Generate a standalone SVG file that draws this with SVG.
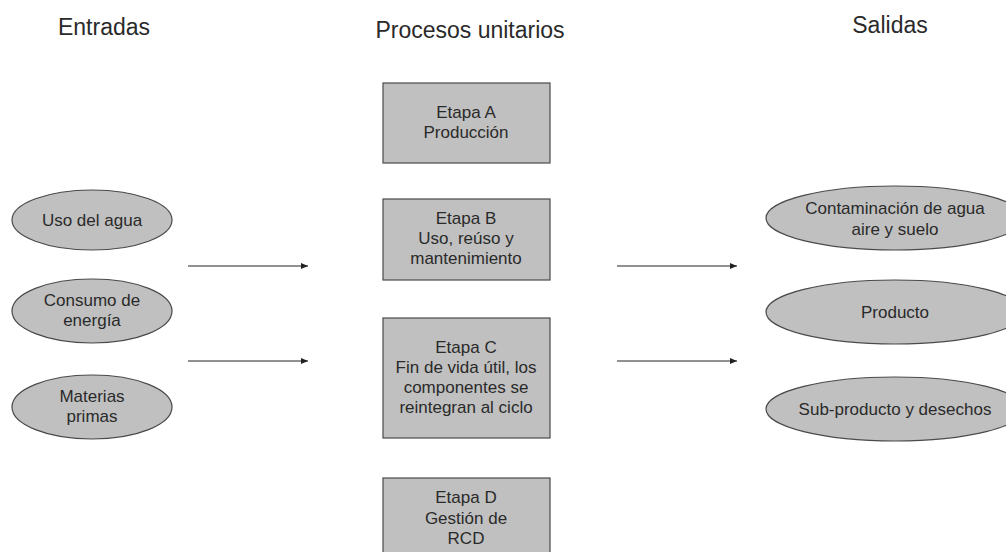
<svg xmlns="http://www.w3.org/2000/svg" width="1006" height="552" viewBox="0 0 1006 552">
<defs>
<style>
text{font-family:"Liberation Sans",Arial,sans-serif;fill:#2a2a2a;text-anchor:middle}
.h{font-size:23px}
.t{font-size:17px}
.n{fill:#c0c0c0;stroke:#4a4a4a;stroke-width:1.2}
.c{stroke:#222;stroke-width:1;fill:none;marker-end:url(#ah)}
</style>
<marker id="ah" markerWidth="8" markerHeight="6" refX="7" refY="3" orient="auto" markerUnits="userSpaceOnUse">
<path d="M0,0 L7,3 L0,6 Z" fill="#222"/>
</marker>
</defs>
<rect width="1006" height="552" fill="#fff"/>
<g id="headers">
<text class="h" x="104" y="35">Entradas</text>
<text class="h" x="470" y="38">Procesos unitarios</text>
<text class="h" x="890" y="33">Salidas</text>
</g>
<g id="in-agua"><ellipse class="n" cx="92" cy="220" rx="80" ry="30"/><text class="t" x="92" y="226">Uso del agua</text></g>
<g id="in-energia"><ellipse class="n" cx="92" cy="311" rx="80" ry="32"/><text class="t" x="92" y="306">Consumo de</text><text class="t" x="92" y="326">energía</text></g>
<g id="in-materias"><ellipse class="n" cx="92" cy="407" rx="80" ry="32"/><text class="t" x="92" y="402">Materias</text><text class="t" x="92" y="422">primas</text></g>
<g id="etapa-a"><rect class="n" x="383" y="83" width="167" height="80"/><text class="t" x="466" y="118">Etapa A</text><text class="t" x="466" y="138">Producción</text></g>
<g id="etapa-b"><rect class="n" x="383" y="199" width="167" height="81"/><text class="t" x="466" y="224">Etapa B</text><text class="t" x="466" y="244">Uso, reúso y</text><text class="t" x="466" y="264">mantenimiento</text></g>
<g id="etapa-c"><rect class="n" x="383" y="318" width="167" height="120"/><text class="t" x="466" y="353">Etapa C</text><text class="t" x="466" y="373">Fin de vida útil, los</text><text class="t" x="466" y="393">componentes se</text><text class="t" x="466" y="413">reintegran al ciclo</text></g>
<g id="etapa-d"><rect class="n" x="383" y="478" width="167" height="76"/><text class="t" x="466" y="503">Etapa D</text><text class="t" x="466" y="524">Gestión de</text><text class="t" x="466" y="544">RCD</text></g>
<g id="out-contaminacion"><ellipse class="n" cx="895" cy="218" rx="129" ry="32"/><text class="t" x="895" y="214">Contaminación de agua</text><text class="t" x="895" y="235">aire y suelo</text></g>
<g id="out-producto"><ellipse class="n" cx="895" cy="312" rx="129" ry="32"/><text class="t" x="895" y="318">Producto</text></g>
<g id="out-subproducto"><ellipse class="n" cx="895" cy="409" rx="129" ry="32"/><text class="t" x="895" y="415">Sub-producto y desechos</text></g>
<g id="connectors">
<line class="c" x1="188" y1="266" x2="308" y2="266"/>
<line class="c" x1="188" y1="361" x2="308" y2="361"/>
<line class="c" x1="617" y1="266" x2="737" y2="266"/>
<line class="c" x1="617" y1="361" x2="737" y2="361"/>
</g>
</svg>
